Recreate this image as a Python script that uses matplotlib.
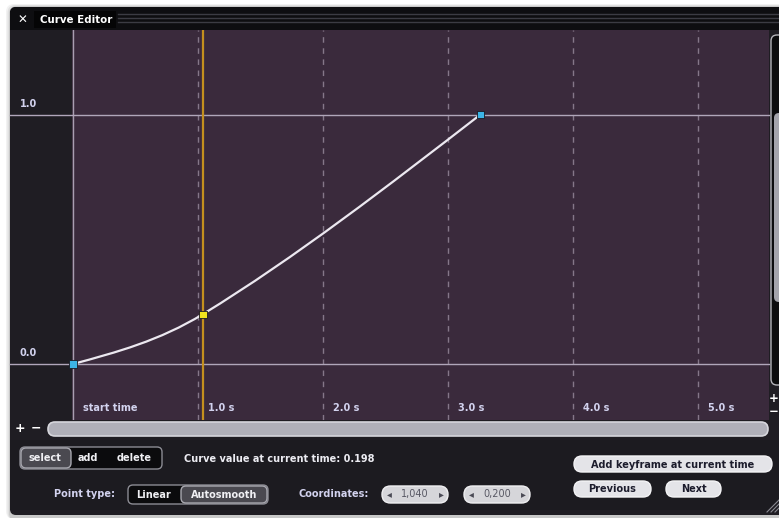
import matplotlib
matplotlib.use('Agg')
import matplotlib.pyplot as plt
import matplotlib.transforms as mtransforms
from matplotlib.patches import FancyBboxPatch, Rectangle
from matplotlib.path import Path
from matplotlib.patches import PathPatch

plt.rcParams['font.family'] = ['DejaVu Sans']

# keyframes of the curve (time in s, value)
key_t = [0.0, 1.04, 3.26]
key_v = [0.0, 0.20, 1.00]
selected_key = 1
current_time = 1.04
current_value = 0.198

grid_times = [1, 2, 3, 4, 5]
tick_times = [0, 1, 2, 3, 4, 5]
tick_labels = ['start time', '1.0 s', '2.0 s', '3.0 s', '4.0 s', '5.0 s']
value_lines = [0.0, 1.0]
value_labels = ['0.0', '1.0']

W, H = 779, 518
PURPLE = '#3a2a3c'
PANEL = '#1f1d23'
LABEL = '#d2d2ee'

fig = plt.figure(figsize=(W / 100, H / 100), dpi=100)
fig.patch.set_facecolor('white')

# chrome axes in pixel coordinates
ui = fig.add_axes([0, 0, 1, 1])
ui.set_xlim(0, W)
ui.set_ylim(H, 0)
ui.axis('off')


def rbox(x, y, w, h, fc, ec='none', r=None, lw=1.0, z=2, alpha=1.0):
    if r is None:
        r = h / 2
    p = FancyBboxPatch((x, y), w, h, boxstyle='round,pad=0,rounding_size=%g' % r,
                       fc=fc, ec=ec, lw=lw, zorder=z, alpha=alpha)
    ui.add_patch(p)
    return p


# window shadow + body
for i, a in enumerate([0.05, 0.07, 0.10]):
    rbox(10 - 4 + i * 1.5, 7 - 3 + i, 800, 515, '#000000', r=8, z=0, alpha=a)
rbox(10, 7, 800, 508, PANEL, r=6, z=1)

# title bar
ui.add_patch(Rectangle((10, 11), 790, 19, fc='#0e0e11', zorder=1.5))
rbox(10, 7, 800, 12, '#0e0e11', r=6, z=1.5)
for yy in [14, 18, 22]:
    ui.plot([118, W], [yy, yy], color='#3c3c44', lw=1.0, zorder=2)
ui.add_patch(Rectangle((34, 11), 82, 17, fc='#050506', zorder=2.5))
ui.text(22, 20, '✕', color='white', fontsize=8.5, fontweight='bold',
        ha='center', va='center', zorder=3)
ui.text(40, 20, 'Curve Editor', color='white', fontsize=7.4, fontweight='bold',
        ha='left', va='center', zorder=3)

# horizontal scroll row
ui.text(20, 428, '+', color='white', fontsize=9, fontweight='bold', ha='center', va='center', zorder=3)
ui.text(36, 428, '−', color='white', fontsize=9, fontweight='bold', ha='center', va='center', zorder=3)
rbox(48, 422, 720, 14, '#b0b0b9', ec='#d6d6dc', lw=1.2, z=3)

# vertical scroll bar on the right
rbox(771, 35, 30, 350, '#0c0c0e', ec='#b4b4ba', r=6, lw=1.0, z=3)
rbox(774, 113, 20, 189, '#a4a4ac', r=5, z=3.5)
ui.text(774, 398, '+', color='white', fontsize=8.5, fontweight='bold', ha='center', va='center', zorder=3)
ui.text(774, 412, '−', color='white', fontsize=8.5, fontweight='bold', ha='center', va='center', zorder=3)

# bottom control panel
ui.add_patch(Rectangle((10, 440), 790, 70, fc='#1c1b20', zorder=1.2))

# select / add / delete segmented control
rbox(20, 447, 142, 22, '#0b0b0d', ec='#8c8c94', r=5, z=3)
rbox(21, 448, 50, 20, '#4a4950', ec='#a8a8b0', r=5, z=3.5)
for x, s in [(45, 'select'), (88, 'add'), (134, 'delete')]:
    ui.text(x, 458, s, color='#f0f0f4', fontsize=7, fontweight='bold',
            ha='center', va='center', zorder=4)
ui.text(184, 459, 'Curve value at current time: %.3f' % current_value, color='#ececf2',
        fontsize=7, fontweight='bold', ha='left', va='center', zorder=4)

# point type segmented control
ui.text(115, 494, 'Point type:', color=LABEL, fontsize=7, fontweight='bold',
        ha='right', va='center', zorder=4)
rbox(128, 485, 140, 19, '#0b0b0d', ec='#8c8c94', r=5, z=3)
rbox(181, 486, 86, 17, '#4a4950', ec='#a8a8b0', r=5, z=3.5)
ui.text(154, 494.5, 'Linear', color='#f0f0f4', fontsize=7, fontweight='bold',
        ha='center', va='center', zorder=4)
ui.text(224, 494.5, 'Autosmooth', color='#f0f0f4', fontsize=7, fontweight='bold',
        ha='center', va='center', zorder=4)

# coordinates steppers
ui.text(299, 494, 'Coordinates:', color=LABEL, fontsize=7, fontweight='bold',
        ha='left', va='center', zorder=4)
for x0, val in [(382, '1,040'), (464, '0,200')]:
    rbox(x0, 486, 66, 17, '#d6d6da', ec='#f0f0f2', z=3)
    ui.text(x0 + 7, 494.5, '◂', color='#4a4a55', fontsize=7, ha='center', va='center', zorder=4)
    ui.text(x0 + 59, 494.5, '▸', color='#4a4a55', fontsize=7, ha='center', va='center', zorder=4)
    ui.text(x0 + 33, 494.5, val, color='#585864', fontsize=7, ha='center', va='center', zorder=4)

# push buttons
for x0, w, y0, s in [(574, 198, 456, 'Add keyframe at current time'),
                     (574, 77, 481, 'Previous'), (666, 55, 481, 'Next')]:
    rbox(x0, y0, w, 16, '#e4e4e8', ec='#f4f4f6', z=3)
    ui.text(x0 + w / 2, y0 + 8.5, s, color='#1c1c2c', fontsize=7, fontweight='bold',
            ha='center', va='center', zorder=4)

# resize grip
for d in [4, 8, 12]:
    ui.plot([W - d, W], [512, 512 - d], color='#8a8a92', lw=0.8, zorder=4)

# ---- curve area ----
ax = fig.add_axes([72 / W, 1 - 420 / H, 697 / W, 390 / H], zorder=5)
ax.set_facecolor(PURPLE)
px_per_s = 125.0
px_per_v = 249.5
ax.set_xlim(-1 / px_per_s, 696 / px_per_s)
ax.set_ylim(-56 / px_per_v, 334 / px_per_v)
for sp in ax.spines.values():
    sp.set_visible(False)
ax.set_xticks([])
ax.set_yticks([])

for t in grid_times:
    ax.axvline(t, color='#857789', lw=1.0, ls=(0, (4, 4)), zorder=1)
ax.axvline(0, color='#a89eb0', lw=1.0, zorder=1)
for v in value_lines:
    ax.axhline(v, xmin=-62 / 697, xmax=1, color='#b0a6ba', lw=1.0, zorder=1, clip_on=False)

# tick labels along the time ruler
tx = mtransforms.offset_copy(ax.get_xaxis_transform(), fig=fig, x=10, y=0, units='dots')
for t, s in zip(tick_times, tick_labels):
    ax.text(t, 12 / 390, s, transform=tx, color=LABEL, fontsize=7, fontweight='bold',
            ha='left', va='center')
ty = mtransforms.offset_copy(ax.get_yaxis_transform(), fig=fig, x=0, y=11, units='dots')
for v, s in zip(value_lines, value_labels):
    ax.text(-52 / 697, v, s, transform=ty, color=LABEL, fontsize=7, fontweight='bold',
            ha='left', va='center')

# playhead
ax.axvline(current_time, color='#c4901e', lw=1.6, zorder=2)

# autosmooth curve through keys (cubic Bezier segments)
n = len(key_t)
slopes = [(key_v[i + 1] - key_v[i]) / (key_t[i + 1] - key_t[i]) for i in range(n - 1)]
m = [0.0] * n
for i in range(1, n - 1):
    m[i] = (key_v[i + 1] - key_v[i - 1]) / (key_t[i + 1] - key_t[i - 1])
m[0] = (3 * slopes[0] - m[1]) / 2
m[-1] = (3 * slopes[-1] - m[-2]) / 2
verts = [(key_t[0], key_v[0])]
codes = [Path.MOVETO]
for i in range(n - 1):
    dt = key_t[i + 1] - key_t[i]
    verts += [(key_t[i] + dt / 3, key_v[i] + m[i] * dt / 3),
              (key_t[i + 1] - dt / 3, key_v[i + 1] - m[i + 1] * dt / 3),
              (key_t[i + 1], key_v[i + 1])]
    codes += [Path.CURVE4] * 3
ax.add_patch(PathPatch(Path(verts, codes), fc='none', ec='#ece8f0', lw=1.6, zorder=3))

colors = ['#f2e41e' if i == selected_key else '#3cb4e6' for i in range(n)]
ax.scatter(key_t, key_v, marker='s', s=26, c=colors, edgecolors='#1a1a22',
           linewidths=0.6, zorder=4, clip_on=False)

fig.savefig('out.png', dpi=100, facecolor=fig.get_facecolor())
